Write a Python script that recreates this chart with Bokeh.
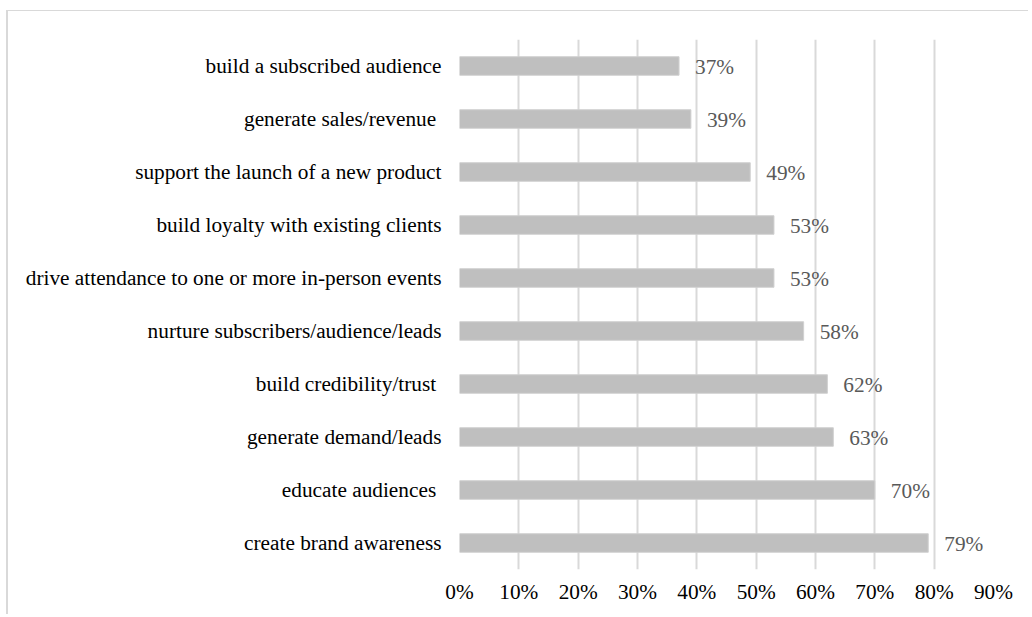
from bokeh.plotting import figure
from bokeh.models import ColumnDataSource, FactorRange, Range1d, NumeralTickFormatter, FixedTicker
from bokeh.core.properties import value
from bokeh.embed import file_html
from bokeh.resources import INLINE

categories = [
    "build a subscribed audience",
    "generate sales/revenue ",
    "support the launch of a new product",
    "build loyalty with existing clients",
    "drive attendance to one or more in-person events",
    "nurture subscribers/audience/leads",
    "build credibility/trust ",
    "generate demand/leads",
    "educate audiences ",
    "create brand awareness",
]
values = [0.37, 0.39, 0.49, 0.53, 0.53, 0.58, 0.62, 0.63, 0.70, 0.79]
value_labels = ["37%", "39%", "49%", "53%", "53%", "58%", "62%", "63%", "70%", "79%"]
x_ticks = [0.0, 0.1, 0.2, 0.3, 0.4, 0.5, 0.6, 0.7, 0.8, 0.9]

FONT = "'Liberation Serif', 'Times New Roman', serif"
FSIZE = "21.3px"

src = ColumnDataSource(dict(cat=categories, val=values, lab=value_labels))

p = figure(
    width=1022, height=604,
    y_range=FactorRange(factors=list(reversed(categories))),
    x_range=Range1d(0, 0.9),
    output_backend="svg", toolbar_location=None,
    min_border_left=451, min_border_right=37, min_border_top=28, min_border_bottom=46,
)
p.styles = {
    "border-left": "2px solid #D9D9D9",
    "border-top": "1px solid #D9D9D9",
    "margin-left": "6px",
    "margin-top": "10px",
}
p.outline_line_color = None

p.hbar(y="cat", right="val", left=0, height=0.35, source=src,
       fill_color="#BFBFBF", line_color="#D0D0D0", line_width=1)
p.text(x="val", y="cat", text="lab", source=src, x_offset=16, y_offset=1,
       text_baseline="middle", text_align="left",
       text_font=value(FONT), text_font_size=FSIZE, text_color="#595959")

p.xaxis.ticker = FixedTicker(ticks=x_ticks)
p.xaxis.formatter = NumeralTickFormatter(format="0%")
p.xaxis.axis_line_color = None
p.xaxis.major_tick_line_color = None
p.xaxis.minor_tick_line_color = None
p.xaxis.major_label_text_font = FONT
p.xaxis.major_label_text_font_size = FSIZE
p.xaxis.major_label_text_color = "#000000"
p.xaxis.major_label_standoff = 4

p.yaxis.axis_line_color = None
p.yaxis.major_tick_line_color = None
p.yaxis.minor_tick_line_color = None
p.yaxis.major_label_text_font = FONT
p.yaxis.major_label_text_font_size = FSIZE
p.yaxis.major_label_text_color = "#000000"
p.yaxis.major_label_standoff = 12

p.ygrid.grid_line_color = None
p.xgrid.grid_line_color = "#D9D9D9"
p.xgrid.grid_line_width = 2

open("out.html", "w").write(file_html(p, INLINE))
